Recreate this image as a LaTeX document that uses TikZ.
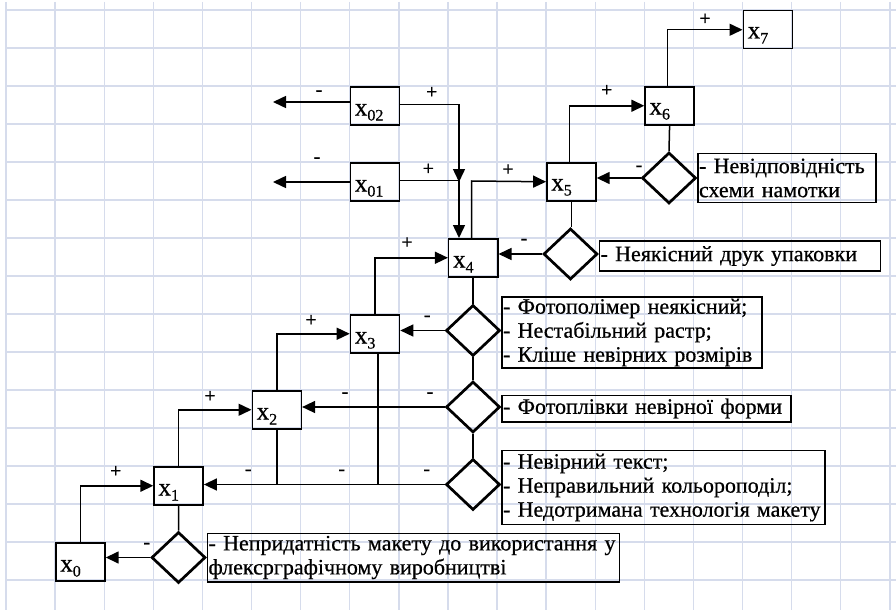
\documentclass[tikz,border=0pt]{standalone}
\usepackage{fontspec}
\setmainfont{Liberation Serif}[FakeBold=0.6]
\usetikzlibrary{shapes.geometric,arrows.meta,calc}
\definecolor{gridline}{RGB}{214,220,236}
% state label: x with a lowered index
\newcommand{\xsub}[1]{x\raisebox{-5pt}{\fontsize{16}{16}\selectfont #1}}
\begin{document}
\begin{tikzpicture}[x=1pt,y=-1pt,
  state/.style={draw, line width=1.5pt, minimum width=49.1pt, minimum height=38pt,
    inner sep=0pt, anchor=north west},
  statetext/.style={anchor=base west, inner sep=0pt, font=\fontsize{25}{25}\selectfont},
  check/.style={draw, diamond, line width=2.7pt, minimum width=54pt, minimum height=51pt,
    inner sep=0pt},
  note/.style={draw, line width=1.3pt, anchor=west, align=left, inner xsep=1pt,
    inner ysep=0pt, font=\fontsize{22}{24}\selectfont},
  sign/.style={inner sep=0pt, font=\fontsize{20}{20}\selectfont},
  conn/.style={line width=1.5pt},
  arr/.style={conn, -{Triangle[length=13pt,width=12pt]}}
]
\useasboundingbox (0,0) rectangle (896,610);

% background grid
\foreach \i in {0,...,18}
  \draw[gridline, line width=1.4pt] ({6+49.1*\i},2) -- ({6+49.1*\i},610);
\foreach \j in {0,...,15}
  \draw[gridline, line width=1.4pt] (6,{10+38*\j}) -- (896,{10+38*\j});

% states
\node[state] (x02) at (349.7,86) {};
\node[state] (x01) at (349.7,162) {};
\node[state] (x5) at (546.1,162) {};
\node[state] (x6) at (644.3,86) {};
\node[state] (x7) at (742.5,10) {};
\node[state] (x4) at (447.9,238) {};
\node[state] (x3) at (349.7,314) {};
\node[state] (x2) at (251.5,390) {};
\node[state] (x1) at (153.3,466) {};
\node[state] (x0) at (55.1,542) {};

\node[statetext] (t02) at ($(x02.south west)+(5,-10)$) {\xsub{02}};
\node[statetext] (t01) at ($(x01.south west)+(5,-10)$) {\xsub{01}};
\node[statetext] (t5) at ($(x5.south west)+(5,-11)$) {\xsub{5}};
\node[statetext] (t6) at ($(x6.south west)+(5,-11)$) {\xsub{6}};
\node[statetext] (t7) at ($(x7.south west)+(5,-11)$) {\xsub{7}};
\node[statetext] (t4) at ($(x4.south west)+(5,-10)$) {\xsub{4}};
\node[statetext] (t3) at ($(x3.south west)+(5,-10)$) {\xsub{3}};
\node[statetext] (t2) at ($(x2.south west)+(5,-10)$) {\xsub{2}};
\node[statetext] (t1) at ($(x1.south west)+(5,-10)$) {\xsub{1}};
\node[statetext] (t0) at ($(x0.south west)+(5,-10)$) {\xsub{0}};

% checks
\node[check] (D6) at (669,178) {};
\node[check] (D5) at (570.5,254) {};
\node[check] (D4) at (473,330.5) {};
\node[check] (D3) at (473,407) {};
\node[check] (D2) at (473,484.5) {};
\node[check] (D1) at (178.5,557.5) {};

% failure notes
\node[note, text width=176pt, minimum height=49.4pt] (L6) at (D6.east)
  {- Невідповідність\\схеми намотки};
\node[note, text width=279pt, minimum height=30pt] (L5) at ($(D5.east)+(0,2)$)
  {- Неякісний друк упаковки};
\node[note, text width=258pt, minimum height=70.8pt] (L4) at ($(D4.east)+(0,2)$)
  {- Фотополімер неякісний;\\- Нестабільний растр;\\- Кліше невірних розмірів};
\node[note, text width=287pt, minimum height=26.7pt] (L3) at ($(D3.east)+(0,1.5)$)
  {- Фотоплівки невірної форми};
\node[note, text width=321pt, minimum height=74.3pt] (L2) at ($(D2.east)+(0,3)$)
  {- Невірний текст;\\- Неправильний кольороподіл;\\\mbox{- Недотримана технологія\hspace{7pt}макету}};
\node[note, text width=410pt, minimum height=48.7pt] (L1) at (D1.east)
  {- Непридатність макету до використання у\\флексрграфічному виробництві};

% free ends and junctions
\coordinate (e02) at (273,102);
\coordinate (e01) at (273,182);
\coordinate (j1) at (459,104.5);
\coordinate (j1b) at (459,182);
\coordinate (j2) at (459,180.5);
\coordinate (j3) at (471.5,181);

% connectors
\draw[arr] (x02.west |- e02) -- (e02);
\draw[arr] (x01.west |- e01) -- (e01);
\draw[arr] (x02.east |- j1) -- (j1) -- (j1b);
\draw[arr] (x01.east |- j2) -- (j2) -- (j2 |- x4.north);
\draw[arr] (j3 |- x4.north) -- (j3) -- (x5.west);
\draw[arr] ($(x5.north)+(-2,0)$) |- (x6.west);
\draw[arr] ($(x6.north)+(-2,0)$) |- (x7.west);
\draw[conn] (x6.south) -- (D6.north);
\draw[arr] (D6.west) -- (D6.west -| x5.east);
\draw[conn] (x5.south) -- (x5.south |- D5.north);
\draw[arr] (D5.west) -- (D5.west -| x4.east);
\draw[arr] (x3.north) |- (x4.west);
\draw[conn] (x4.south) -- (x4.south |- D4.north);
\draw[arr] (D4.west) -- (D4.west -| x3.east);
\draw[conn] (D4.south) -- (D3.north);
\draw[conn] (D3.south) -- (D2.north);
\draw[arr] (x2.north) |- (x3.west);
\draw[arr] (D3.west) -- (D3.west -| x2.east);
\draw[arr] (x1.north) |- (x2.west);
\draw[arr] (D2.west) -- (D2.west -| x1.east);
\draw[conn] (x2.south) -- (x2.south |- D2.west);
\draw[conn] ($(x3.south)+(3,0)$) -- ($(x3.south |- D2.west)+(3,0)$);
\draw[arr] (x0.north) |- (x1.west);
\draw[conn] (x1.south) -- (D1.north);
\draw[arr] (D1.west) -- (D1.west -| x0.east);

% signs
\node[sign] (m02) at (319,93) {-};
\node[sign] (m01) at (317,160) {-};
\node[sign] (p02) at (431.7,92.7) {+};
\node[sign] (p01) at (428.3,169.3) {+};
\node[sign] (p45) at (508,170) {+};
\node[sign] (p56) at (606.7,90.7) {+};
\node[sign] (p67) at (705,19.3) {+};
\node[sign] (m65) at (639,168.3) {-};
\node[sign] (m54) at (524,241.7) {-};
\node[sign] (p34) at (407,243) {+};
\node[sign] (m43) at (427.3,318.3) {-};
\node[sign] (p23) at (311,320.7) {+};
\node[sign] (m32a) at (345,395) {-};
\node[sign] (m32b) at (430,395) {-};
\node[sign] (p12) at (210,396.7) {+};
\node[sign] (m21a) at (248.3,472.3) {-};
\node[sign] (m21b) at (341.7,472.3) {-};
\node[sign] (m21c) at (426.7,472.3) {-};
\node[sign] (p01b) at (115.7,471.7) {+};
\node[sign] (m10) at (146.7,545.7) {-};
\end{tikzpicture}
\end{document}
